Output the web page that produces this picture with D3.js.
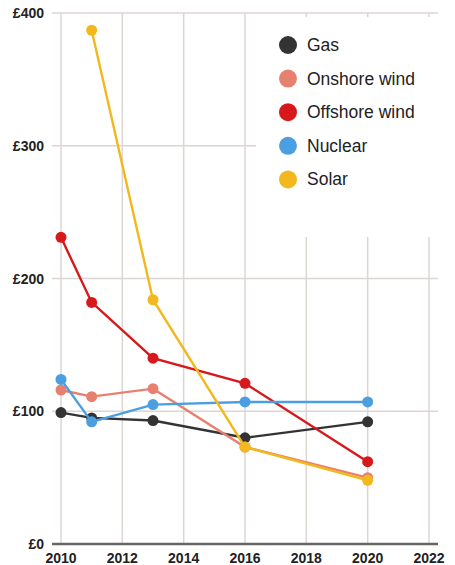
<!DOCTYPE html>
<html>
<head>
<meta charset="utf-8">
<script src="https://cdn.jsdelivr.net/npm/d3@7"></script>
<style>
  body { margin: 0; background: #fff; }
  text { font-family: "Liberation Sans", Arial, sans-serif; }
</style>
</head>
<body>
<div id="chart"></div>
<script>
var years = [2010, 2011, 2013, 2016, 2020]
var gas = [99, 95, 93, 80, 92]
var onshore = [116, 111, 117, 73, 50]
var offshore = [231, 182, 140, 121, 62]
var nuclear = [124, 92, 105, 107, 107]
var solar = [null, 387, 184, 73, 48]
var seriesNames = ["Gas", "Onshore wind", "Offshore wind", "Nuclear", "Solar"]
var xTicks = [2010, 2012, 2014, 2016, 2018, 2020, 2022]
var yTicks = [0, 100, 200, 300, 400]

var colors = ["#333333", "#e8806f", "#d7191c", "#4b9fe1", "#f2b81e"]
var allSeries = [gas, onshore, offshore, nuclear, solar]

var width = 455, height = 565
var svg = d3.select("#chart").append("svg")
  .attr("width", width)
  .attr("height", height)

var x = d3.scaleLinear().domain([2010, 2022]).range([61, 429])
var y = d3.scaleLinear().domain([0, 400]).range([544, 13])

// grid
svg.selectAll(".vgrid").data(xTicks).enter().append("line")
  .attr("x1", d => x(d)).attr("x2", d => x(d))
  .attr("y1", y(400)).attr("y2", y(0))
  .attr("stroke", "#dcd6d3").attr("stroke-width", 1.5)

svg.selectAll(".hgrid").data(yTicks.filter(d => d > 0)).enter().append("line")
  .attr("x1", 52).attr("x2", 438)
  .attr("y1", d => y(d)).attr("y2", d => y(d))
  .attr("stroke", "#dcd6d3").attr("stroke-width", 1.5)

// legend background hides the grid
svg.append("rect")
  .attr("x", 256).attr("y", 17).attr("width", 192).attr("height", 220)
  .attr("fill", "#fff")

// x axis line
svg.append("line")
  .attr("x1", 52).attr("x2", 438)
  .attr("y1", y(0)).attr("y2", y(0))
  .attr("stroke", "#666").attr("stroke-width", 2.5)

// y labels
svg.selectAll(".ylab").data(yTicks).enter().append("text")
  .attr("x", 44).attr("y", d => y(d) + 5)
  .attr("text-anchor", "end")
  .attr("font-size", 14).attr("font-weight", "bold").attr("fill", "#222")
  .text(d => "£" + d)

// x labels
svg.selectAll(".xlab").data(xTicks).enter().append("text")
  .attr("x", d => x(d)).attr("y", 563)
  .attr("text-anchor", "middle")
  .attr("font-size", 14).attr("font-weight", "bold").attr("fill", "#222")
  .text(d => d)

var line = d3.line()
  .defined(d => d.v != null)
  .x(d => x(d.year))
  .y(d => y(d.v))

allSeries.forEach(function (vals, i) {
  var pts = years.map((yr, j) => ({ year: yr, v: vals[j] }))
  svg.append("path")
    .datum(pts)
    .attr("d", line)
    .attr("fill", "none")
    .attr("stroke", colors[i])
    .attr("stroke-width", 2.4)
  svg.selectAll(".pt" + i).data(pts.filter(d => d.v != null)).enter().append("circle")
    .attr("cx", d => x(d.year))
    .attr("cy", d => y(d.v))
    .attr("r", 5.5)
    .attr("fill", colors[i])
})

// legend
var leg = svg.selectAll(".leg").data(seriesNames).enter().append("g")
  .attr("transform", (d, i) => "translate(288," + (45 + i * 33.6) + ")")
leg.append("circle").attr("r", 9).attr("fill", (d, i) => colors[i])
leg.append("text").attr("x", 19).attr("y", 6)
  .attr("font-size", 17.5).attr("fill", "#222")
  .text(d => d)
</script>
</body>
</html>
